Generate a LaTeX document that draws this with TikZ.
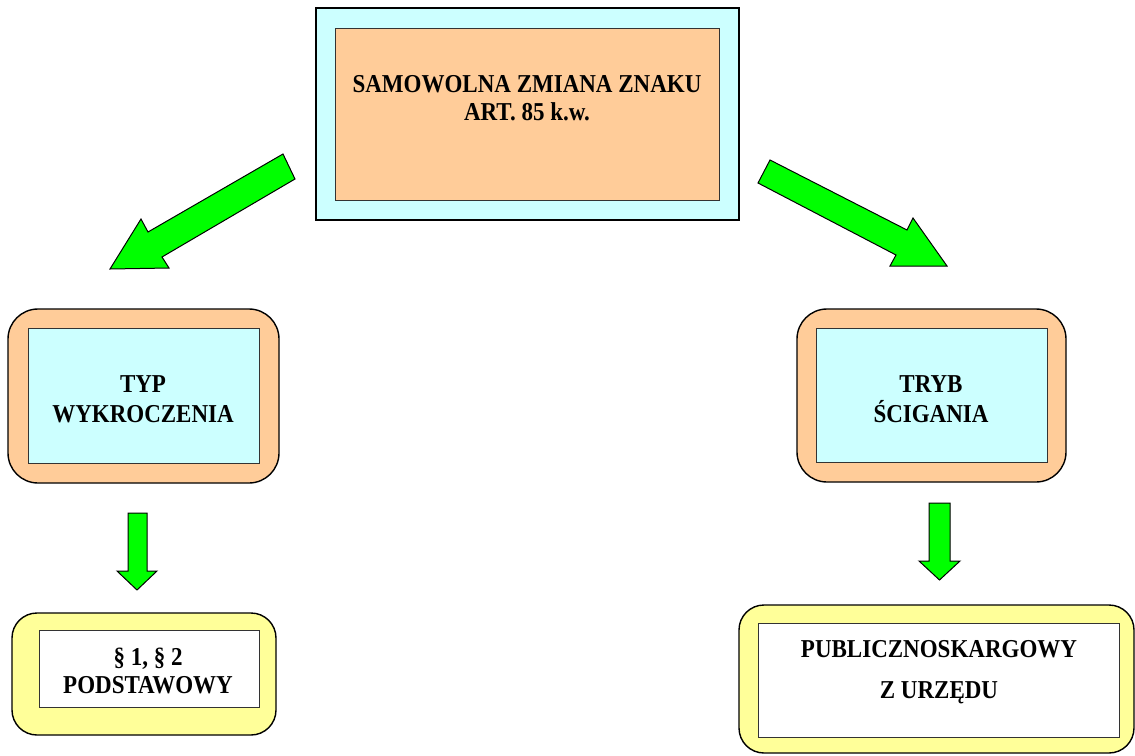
\documentclass[tikz,border=0pt]{standalone}
\usepackage{graphicx}
\usepackage{fontspec}
\setmainfont{Liberation Serif}
\definecolor{lcyan}{HTML}{CCFFFF}
\definecolor{peach}{HTML}{FFCC99}
\definecolor{lyellow}{HTML}{FFFF99}
\definecolor{bgreen}{HTML}{00FF00}
\newcommand{\tallt}[1]{\scalebox{1}[1.12]{#1}}
\begin{document}
\begin{tikzpicture}[x=1pt,y=-1pt,
  box/.style={draw=black, line width=1.4pt, inner sep=0pt, outer sep=0pt},
  inbox/.style={draw=black!80, line width=1pt, inner sep=0pt, outer sep=0pt},
  txt/.style={anchor=base, inner sep=0pt, font=\fontsize{23}{28}\selectfont\bfseries},
  blockarrow/.style={draw=black, line width=1pt, fill=bgreen, line join=miter}]
\useasboundingbox (0,0) rectangle (1135,755);
% top box
\node[box, fill=lcyan, minimum width=423pt, minimum height=212pt] (top) at (527.5,114) {};
\node[inbox, fill=peach, minimum width=384pt, minimum height=172pt] (topin) at (527,114) {};
\node[txt] (t1) at (527,92) {\tallt{SAMOWOLNA ZMIANA ZNAKU}};
\node[txt] (t2) at (527,120) {\tallt{ART. 85 k.w.}};
% left middle box
\node[box, fill=peach, rounded corners=30pt, minimum width=271pt, minimum height=174pt] (lm) at (143.5,396) {};
\node[inbox, fill=lcyan, minimum width=231pt, minimum height=135pt] (lmin) at (143.5,395.5) {};
\node[txt] (l1) at (143,392) {\tallt{TYP}};
\node[txt] (l2) at (143,422) {\tallt{WYKROCZENIA}};
% right middle box
\node[box, fill=peach, rounded corners=30pt, minimum width=269pt, minimum height=173pt] (rm) at (931.5,395.5) {};
\node[inbox, fill=lcyan, minimum width=231pt, minimum height=134pt] (rmin) at (931.5,395) {};
\node[txt] (r1) at (931,392) {\tallt{TRYB}};
\node[txt] (r2) at (931,422) {\tallt{ŚCIGANIA}};
% left bottom box
\node[box, fill=lyellow, rounded corners=25pt, minimum width=264pt, minimum height=122pt] (lb) at (144,674) {};
\node[inbox, fill=white, minimum width=220pt, minimum height=77pt] (lbin) at (149,668.5) {};
\node[txt] (b1) at (148,665) {\tallt{§ 1, § 2}};
\node[txt] (b2) at (148,693) {\tallt{PODSTAWOWY}};
% right bottom box
\node[box, fill=lyellow, rounded corners=25pt, minimum width=395pt, minimum height=148pt] (rb) at (936.5,679) {};
\node[inbox, fill=white, minimum width=361pt, minimum height=114pt] (rbin) at (938.5,680) {};
\node[txt] (c1) at (939,657) {\tallt{PUBLICZNOSKARGOWY}};
\node[txt] (c2) at (939,698) {\tallt{Z URZĘDU}};
% block arrows
\draw[blockarrow] (283,154) -- (295,179) -- (162,257) -- (169,268) -- (110,269) -- (141,219) -- (148,232) -- cycle;
\draw[blockarrow] (770,160) -- (907,230) -- (913,218) -- (947,266) -- (890,266) -- (896,255) -- (758,183) -- cycle;
\draw[blockarrow] (128,513) -- (147,513) -- (147,571) -- (157,571) -- (137,590) -- (117,571) -- (128,571) -- cycle;
\draw[blockarrow] (929,503) -- (950,503) -- (950,561) -- (960,561) -- (939.5,580) -- (919,561) -- (929,561) -- cycle;
\end{tikzpicture}
\end{document}
